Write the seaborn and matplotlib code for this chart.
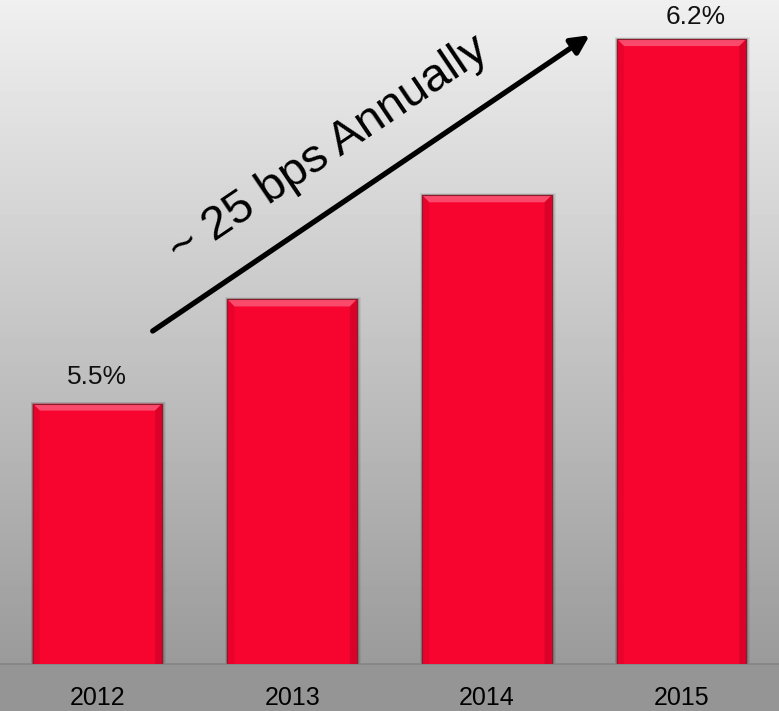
import numpy as np
import pandas as pd
import matplotlib
matplotlib.use("Agg")
import matplotlib.pyplot as plt
from matplotlib.patches import Polygon, Rectangle
import seaborn as sns

# Data
years = ["2012", "2013", "2014", "2015"]
rates = [5.5, 5.7, 5.9, 6.2]
value_labels = ["5.5%", "", "", "6.2%"]
label_dx = [0, 0, 0, 10]          # horizontal nudge of value labels (points)
label_dy = [19, 19, 19, 16]       # vertical offset of value labels (points)
trend_text = "~ 25 bps Annually"

sns.set_theme(style="white")
plt.rcParams["font.family"] = ["Liberation Sans", "DejaVu Sans"]

W, H = 779, 711
fig = plt.figure(figsize=(W / 100, H / 100), dpi=100)

# Background: vertical grey gradient down to the baseline, flat below it
base_px = 664
bg = fig.add_axes([0, 0, 1, 1], zorder=-5)
rows = np.arange(H)
shade = np.where(rows < base_px, 0.94 - (0.94 - 0.605) * rows / base_px, 0.585)
bg.imshow(np.repeat(shade[:, None], 2, axis=1), cmap="gray", vmin=0, vmax=1,
          aspect="auto", extent=[0, 1, 0, 1])
bg.set_axis_off()

ax = fig.add_axes([0, (H - base_px) / H, 1, base_px / H])
ax.patch.set_alpha(0)

df = pd.DataFrame({"year": years, "rate": rates})
sns.barplot(data=df, x="year", y="rate", color="#F7042F", saturation=1,
            width=0.665, edgecolor="#8c1c2c", linewidth=0.8, ax=ax, zorder=3)

ax.set_xlim(-0.5, 3.5)
ax.set_ylim(5.0, 6.275)
ax.set_xlabel("")
ax.set_ylabel("")
ax.set_yticks([])
for s in ["left", "right", "top"]:
    ax.spines[s].set_visible(False)
ax.spines["bottom"].set_color("#858585")
ax.spines["bottom"].set_linewidth(1.2)
ax.tick_params(axis="x", length=0, pad=16, labelsize=18, labelcolor="black")

# Bevel and shadow on each bar, derived from the bar geometry
xpx = (ax.get_xlim()[1] - ax.get_xlim()[0]) / W
ypx = (ax.get_ylim()[1] - ax.get_ylim()[0]) / base_px
d = 7
for p in ax.patches:
    x0, y0 = p.get_x(), p.get_y()
    x1, y1 = x0 + p.get_width(), y0 + p.get_height()
    dx, dy = d * xpx, d * ypx
    # soft shadow
    for k, a in [(4, 0.06), (3, 0.08), (2, 0.10)]:
        ax.add_patch(Rectangle((x0 - k * xpx * 0.5, y0), (x1 - x0) + k * xpx * 1.5,
                               (y1 - y0) + k * ypx * 0.5, facecolor="black",
                               alpha=a, linewidth=0, zorder=2))
    ax.add_patch(Polygon([(x0, y1), (x1, y1), (x1 - dx, y1 - dy), (x0 + dx, y1 - dy)],
                         closed=True, facecolor="#FA4A6C", linewidth=0, zorder=4))
    ax.add_patch(Polygon([(x0, y1), (x0 + dx, y1 - dy), (x0 + dx, y0 + dy), (x0, y0)],
                         closed=True, facecolor="#E9032C", linewidth=0, zorder=4))
    ax.add_patch(Polygon([(x1, y1), (x1 - dx, y1 - dy), (x1 - dx, y0 + dy), (x1, y0)],
                         closed=True, facecolor="#DB0229", linewidth=0, zorder=4))
    ax.add_patch(Polygon([(x0, y0), (x0 + dx, y0 + dy), (x1 - dx, y0 + dy), (x1, y0)],
                         closed=True, facecolor="#E2042D", linewidth=0, zorder=4))
    ax.add_patch(Rectangle((x0, y0), x1 - x0, y1 - y0, facecolor="none",
                           edgecolor="#8c1c2c", linewidth=0.8, zorder=5))

# Value labels above labelled bars
for i, (v, lab) in enumerate(zip(rates, value_labels)):
    if lab:
        ax.annotate(lab, xy=(i, v), xytext=(label_dx[i], label_dy[i]),
                    textcoords="offset points", ha="center", va="center",
                    fontsize=19, color="#111111", zorder=6, annotation_clip=False)

# Trend arrow and its caption
ax.annotate("", xy=(0.757, 0.947), xytext=(0.196, 0.5015), xycoords="axes fraction",
            arrowprops=dict(arrowstyle="-|>,head_length=0.9,head_width=0.45",
                            color="black", lw=3.8, shrinkA=0, shrinkB=0), zorder=7)
ax.text(0.422, 0.774, trend_text, transform=ax.transAxes, rotation=34,
        rotation_mode="anchor", ha="center", va="center", fontsize=34,
        color="black", zorder=7)

fig.savefig("out.png", dpi=100)
